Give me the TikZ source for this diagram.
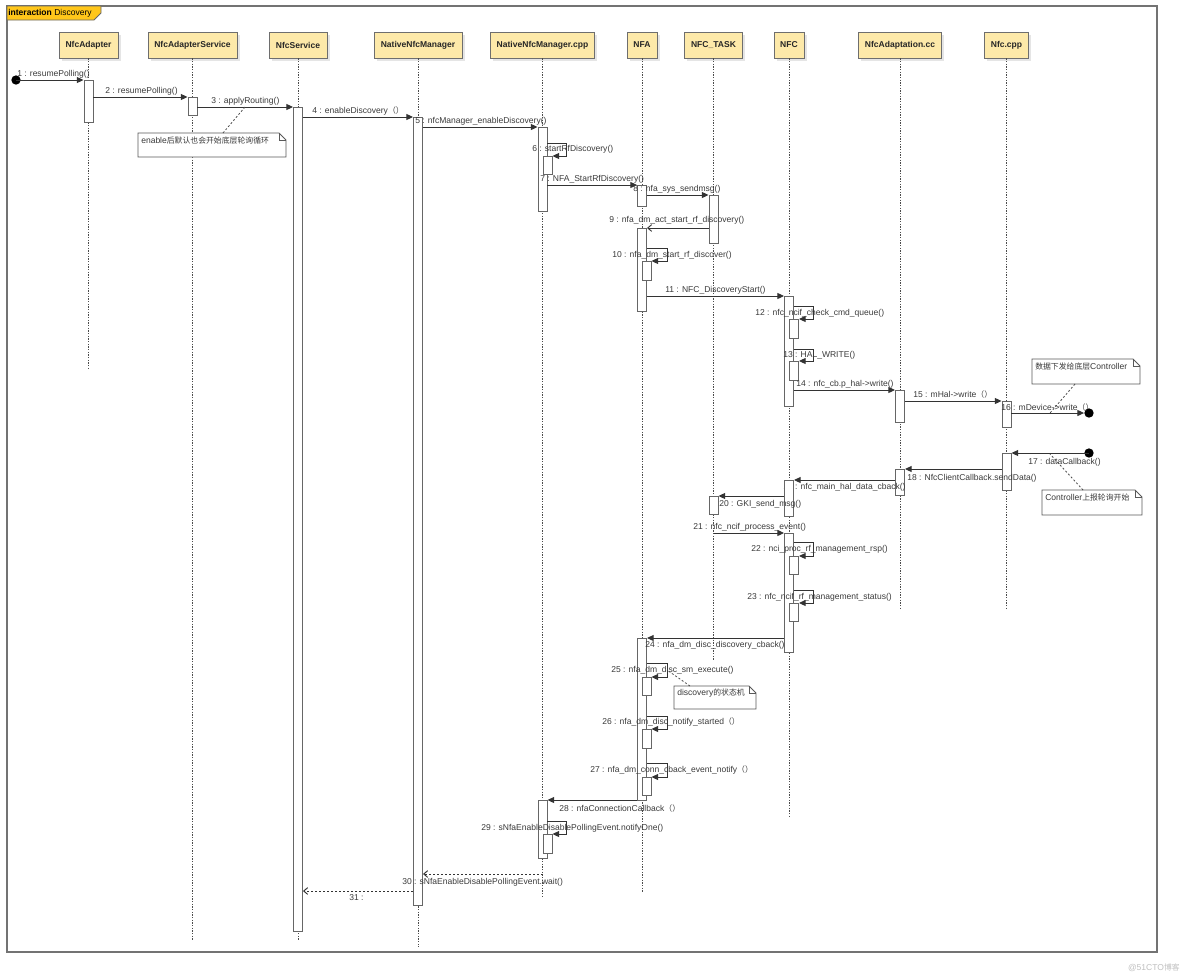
\documentclass[tikz,border=0pt]{standalone}
\usepackage{fontspec}
\setmainfont{Liberation Sans}
\newfontfamily\cjk[Scale=0.92]{Noto Sans CJK SC}
\usetikzlibrary{arrows.meta,calc,shadows}
\definecolor{headfill}{HTML}{FDE9A9}
\definecolor{bordergray}{HTML}{6E6E6E}
\definecolor{labelgray}{HTML}{3A3A3A}
\definecolor{tabgold}{HTML}{FFC61A}
\tikzset{
  head/.style={draw=bordergray, fill=headfill, line width=0.7pt,
    font=\bfseries\fontsize{6.4}{7}\selectfont, text=black!85,
    minimum height=19.5pt, inner sep=0pt,
    drop shadow={shadow xshift=2pt, shadow yshift=-2pt, fill=black!10, opacity=1}},
  lbl/.style={font=\fontsize{6.4}{7}\selectfont, text=labelgray, inner sep=0pt, anchor=base west},
  msg/.style={draw=black!80, line width=0.7pt, -{Triangle[length=5pt,width=4.5pt]}},
  async/.style={draw=black!80, line width=0.7pt, -{Straight Barb[length=3pt,width=5pt]}},
  reply/.style={async, dash pattern=on 1.5pt off 1.5pt},
  life/.style={draw=black!70, line width=0.7pt, dash pattern=on 1pt off 1pt},
  actbox/.style={draw=black!60, fill=white, line width=0.7pt, minimum width=6.75pt, inner sep=0pt},
  endpt/.style={circle, fill=black, minimum size=7pt, inner sep=0pt},
  noteline/.style={draw=black!65, line width=0.6pt},
  notetext/.style={font=\fontsize{6.4}{7}\selectfont, text=labelgray, inner sep=0pt, anchor=west},
  notelink/.style={draw=black!70, line width=0.6pt, dash pattern=on 1.5pt off 1.5pt}
}
\newcommand\act[4]{\node[actbox, minimum height={(#4-#3)*0.75pt}, anchor=north] (#1) at (#2,#3) {};}
\newcommand\notebox[6]{%
  \filldraw[noteline, fill=white] (#2,#3) -- (#4-7,#3) -- (#4,#3+7) -- (#4,#5) -- (#2,#5) -- cycle;
  \draw[noteline] (#4-7,#3) -- (#4-7,#3+7) -- (#4,#3+7);
  \node[notetext] (#1) at (#2+3,#3+7.5) {#6};}
\begin{document}
\begin{tikzpicture}[x=0.75pt,y=-0.75pt]
\useasboundingbox (0,0) rectangle (1184,979);
% frame
\draw[draw=black!55, line width=0.8pt] (7,6) rectangle (1157,952);
\filldraw[draw=black!60, fill=tabgold, line width=0.6pt] (7,6) -- (101,6) -- (101,13) -- (94,20) -- (7,20) -- cycle;
\node[font=\fontsize{6.4}{7}\selectfont, anchor=west, inner sep=0pt] (ttl) at (8,13) {\textbf{interaction} Discovery};
% heads
\node[head, minimum width=44.25pt] (hAd) at (88.5,45) {NfcAdapter};
\node[head, minimum width=66.75pt] (hAS) at (192.5,45) {NfcAdapterService};
\node[head, minimum width=43.5pt] (hSvc) at (298,45) {NfcService};
\node[head, minimum width=66pt] (hNM) at (418,45) {NativeNfcManager};
\node[head, minimum width=78pt] (hCpp) at (542.5,45) {NativeNfcManager.cpp};
\node[head, minimum width=22.5pt] (hNFA) at (642,45) {NFA};
\node[head, minimum width=43.5pt] (hTask) at (713.5,45) {NFC\_TASK};
\node[head, minimum width=22.5pt] (hNFC) at (789,45) {NFC};
\node[head, minimum width=62.25pt] (hAda) at (900,45) {NfcAdaptation.cc};
\node[head, minimum width=33pt] (hDev) at (1006.5,45) {Nfc.cpp};
% lifelines
\draw[life] (hAd.south) -- (hAd.south |- 0,368);
\draw[life] (hAS.south) -- (hAS.south |- 0,940);
\draw[life] (hSvc.south) -- (hSvc.south |- 0,940);
\draw[life] (hNM.south) -- (hNM.south |- 0,947);
\draw[life] (hCpp.south) -- (hCpp.south |- 0,896);
\draw[life] (hNFA.south) -- (hNFA.south |- 0,892);
\draw[life] (hTask.south) -- (hTask.south |- 0,660);
\draw[life] (hNFC.south) -- (hNFC.south |- 0,818);
\draw[life] (hAda.south) -- (hAda.south |- 0,608);
\draw[life] (hDev.south) -- (hDev.south |- 0,608);
% activations
\act{aAd}{88.5}{80}{122}
\act{aAS}{192.5}{97}{115}
\act{aSvc}{298}{107}{931}
\act{aNM}{418}{117}{905}
\act{aCpp1}{542.5}{127}{211}
\act{aCpp1n}{547.5}{156}{174}
\act{aNFA1}{642}{185}{206}
\act{aTask1}{713.5}{195}{243}
\act{aNFA2}{642}{228}{311}
\act{aNFA2n}{646.5}{261}{280}
\act{aNFC1}{789}{296}{406}
\act{aNFC1a}{794}{319}{338}
\act{aNFC1b}{794}{361}{380}
\act{aAda1}{900}{390}{422}
\act{aDev1}{1006.5}{401}{427}
\act{aDev2}{1006.5}{453}{490}
\act{aAda2}{900}{469}{495}
\act{aTask2}{713.5}{496}{514}
\act{aNFC3}{789}{533}{652}
\act{aNFC3a}{794}{556}{574}
\act{aNFC3b}{794}{603}{621}
\act{aNFA3}{642}{638}{800}
\act{aNFA3a}{646.5}{677}{695}
\act{aNFA3b}{646.5}{729}{748}
\act{aNFA3c}{646.5}{777}{795}
\act{aCpp2}{542.5}{800}{858}
\act{aCpp2n}{547.5}{834}{853}
% label partly hidden behind the NFC activation
\node[lbl] (l19) at (783,489) {19 : nfc\_main\_hal\_data\_cback()};
\act{aNFC2}{789}{480}{516}
% end points
\node[endpt] (dot1) at (16,80) {};
\node[endpt] (dot16) at (1089,413) {};
\node[endpt] (dot17) at (1089,453) {};
% messages
\draw[msg] (dot1.center) -- (aAd.west |- dot1);
\draw[msg] (aAd.east |- 0,97) -- (aAS.west |- 0,97);
\draw[msg] (aAS.east |- 0,107) -- (aSvc.west |- 0,107);
\draw[msg] (aSvc.east |- 0,117) -- (aNM.west |- 0,117);
\draw[msg] (aNM.east |- 0,127) -- (aCpp1.west |- 0,127);
\draw[msg] (aCpp1.east |- 0,143) -- ++(19,0) |- (aCpp1n.north east);
\draw[msg] (aCpp1.east |- 0,185) -- (aNFA1.west |- 0,185);
\draw[msg] (aNFA1.east |- 0,195) -- (aTask1.west |- 0,195);
\draw[async] (aTask1.west |- 0,228) -- (aNFA2.east |- 0,228);
\draw[msg] (aNFA2.east |- 0,248) -- ++(20,0) |- (aNFA2n.north east);
\draw[msg] (aNFA2.east |- 0,296) -- (aNFC1.west |- 0,296);
\draw[msg] (aNFC1.east |- 0,306) -- ++(19,0) |- (aNFC1a.north east);
\draw[msg] (aNFC1.east |- 0,349) -- ++(19,0) |- (aNFC1b.north east);
\draw[msg] (aNFC1.east |- 0,390) -- (aAda1.west |- 0,390);
\draw[msg] (aAda1.east |- 0,401) -- (aDev1.west |- 0,401);
\draw[msg] (aDev1.east |- dot16) -- (dot16.west);
\draw[msg] (dot17.center) -- (aDev2.east |- dot17);
\draw[msg] (aDev2.west |- 0,469) -- (aAda2.east |- 0,469);
\draw[msg] (aAda2.west |- 0,480) -- (aNFC2.east |- 0,480);
\draw[msg] (aNFC2.west |- 0,496) -- (aTask2.east |- 0,496);
\draw[msg] (hTask.south |- 0,533) -- (aNFC3.west |- 0,533);
\draw[msg] (aNFC3.east |- 0,542) -- ++(19,0) |- (aNFC3a.north east);
\draw[msg] (aNFC3.east |- 0,590) -- ++(19,0) |- (aNFC3b.north east);
\draw[msg] (aNFC3.west |- 0,638) -- (aNFA3.east |- 0,638);
\draw[msg] (aNFA3.east |- 0,663) -- ++(20,0) |- (aNFA3a.north east);
\draw[msg] (aNFA3.east |- 0,716) -- ++(20,0) |- (aNFA3b.north east);
\draw[msg] (aNFA3.east |- 0,763) -- ++(20,0) |- (aNFA3c.north east);
\draw[msg] (aNFA3.west |- 0,800) -- (aCpp2.east |- 0,800);
\draw[msg] (aCpp2.east |- 0,821) -- ++(19,0) |- (aCpp2n.north east);
\draw[reply] (hCpp.south |- 0,874) -- (aNM.east |- 0,874);
\draw[reply] (aNM.west |- 0,891) -- (aSvc.east |- 0,891);
% labels
\node[lbl] (l1) at (17,76) {1 : resumePolling()};
\node[lbl] (l2) at (105,93) {2 : resumePolling()};
\node[lbl] (l3) at (211,103) {3 : applyRouting()};
\node[lbl] (l4) at (312,113) {4 : enableDiscovery{\cjk （）}};
\node[lbl] (l5) at (415,123) {5 : nfcManager\_enableDiscovery()};
\node[lbl] (l6) at (532,151) {6 : startRfDiscovery()};
\node[lbl] (l7) at (540,181) {7 : NFA\_StartRfDiscovery()};
\node[lbl] (l8) at (633,191) {8 : nfa\_sys\_sendmsg()};
\node[lbl] (l9) at (609,222) {9 : nfa\_dm\_act\_start\_rf\_discovery()};
\node[lbl] (l10) at (612,257) {10 : nfa\_dm\_start\_rf\_discover()};
\node[lbl] (l11) at (665,292) {11 : NFC\_DiscoveryStart()};
\node[lbl] (l12) at (755,315) {12 : nfc\_ncif\_check\_cmd\_queue()};
\node[lbl] (l13) at (783,357) {13 : HAL\_WRITE()};
\node[lbl] (l14) at (796,386) {14 : nfc\_cb.p\_hal->write()};
\node[lbl] (l15) at (913,397) {15 : mHal->write{\cjk （）}};
\node[lbl] (l16) at (1001,410) {16 : mDevice->write{\cjk （）}};
\node[lbl] (l17) at (1028,464) {17 : dataCallback()};
\node[lbl] (l18) at (907,480) {18 : NfcClientCallback.sendData()};
\node[lbl] (l20) at (719,506) {20 : GKI\_send\_msg()};
\node[lbl] (l21) at (693,529) {21 : nfc\_ncif\_process\_event()};
\node[lbl] (l22) at (751,551) {22 : nci\_proc\_rf\_management\_rsp()};
\node[lbl] (l23) at (747,599) {23 : nfc\_ncif\_rf\_management\_status()};
\node[lbl] (l24) at (645,647) {24 : nfa\_dm\_disc\_discovery\_cback()};
\node[lbl] (l25) at (611,672) {25 : nfa\_dm\_disc\_sm\_execute()};
\node[lbl] (l26) at (602,724) {26 : nfa\_dm\_disc\_notify\_started{\cjk （）}};
\node[lbl] (l27) at (590,772) {27 : nfa\_dm\_conn\_cback\_event\_notify{\cjk （）}};
\node[lbl] (l28) at (559,811) {28 : nfaConnectionCallback{\cjk （）}};
\node[lbl] (l29) at (481,830) {29 : sNfaEnableDisablePollingEvent.notifyOne()};
\node[lbl] (l30) at (402,884) {30 : sNfaEnableDisablePollingEvent.wait()};
\node[lbl] (l31) at (349,900) {31 :};
% notes
\notebox{n1}{138}{133}{286}{157}{enable{\cjk 后默认也会开始底层轮询循环}}
\notebox{n2}{1032}{359}{1140}{384}{{\cjk 数据下发给底层}Controller}
\notebox{n3}{1042}{490}{1142}{515}{Controller{\cjk 上报轮询开始}}
\notebox{n4}{674}{686}{756}{709}{discovery{\cjk 的状态机}}
\coordinate (n1t) at (223,133);
\coordinate (m3) at (245,107);
\coordinate (n2b) at (1075,384);
\coordinate (m16) at (1050,413);
\coordinate (n3t) at (1083,490);
\coordinate (m17) at (1050,454);
\coordinate (n4t) at (690,686);
\coordinate (m25) at (667,670);
\draw[notelink] (n1t) -- (m3);
\draw[notelink] (n2b) -- (m16);
\draw[notelink] (n3t) -- (m17);
\draw[notelink] (n4t) -- (m25);
% watermark
\node[font=\fontsize{6.4}{7}\selectfont, text=black!25, anchor=east, inner sep=0pt] (wm) at (1180,968) {@51CTO{\cjk 博客}};
\end{tikzpicture}
\end{document}
